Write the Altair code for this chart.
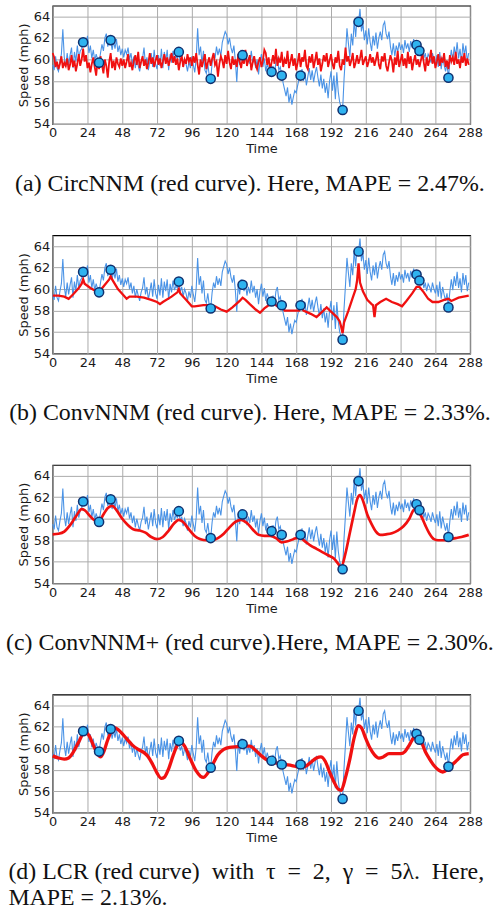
import altair as alt
import pandas as pd

time = list(range(288))

ground_truth = [
    59.5, 59.0, 60.3, 59.2, 58.9, 59.8, 60.5, 62.8, 60.2, 59.3, 60.6, 59.5,
    60.4, 61.1, 59.2, 60.7, 59.8, 61.3, 60.1, 60.8, 61.0, 61.6, 61.9, 61.2,
    62.2, 60.6, 61.3, 60.1, 60.9, 59.9, 60.5, 60.0, 59.7, 60.6, 61.4, 60.8,
    62.0, 62.4, 61.2, 62.1, 61.8, 60.9, 61.7, 61.0, 61.9, 60.7, 61.3, 60.4,
    61.0, 60.2, 60.9, 60.5, 61.1, 60.0, 60.6, 59.6, 60.3, 59.2, 60.0, 59.4,
    58.9, 59.7, 60.1, 61.1, 59.5, 60.2, 59.0, 59.8, 60.6, 59.3, 60.9, 59.6,
    59.1, 60.4, 59.4, 61.0, 59.2, 60.7, 59.8, 60.9, 59.0, 60.5, 59.7, 60.8,
    59.9, 60.3, 60.1, 60.7, 59.8, 60.2, 59.3, 60.0, 59.6, 58.9, 59.8, 59.2,
    60.3, 59.5, 58.8, 60.1, 62.9, 60.4, 61.2, 59.6, 60.8, 59.0, 58.7, 59.6,
    58.5, 58.2, 59.7, 60.6, 60.1, 61.2, 60.4, 61.0, 60.3, 61.6, 62.1, 62.6,
    62.3, 61.4, 62.0, 61.1, 60.6, 61.3, 59.9, 57.9, 60.5, 59.5, 60.9, 60.4,
    59.8, 60.5, 59.4, 60.2, 59.6, 60.8, 59.7, 60.3, 59.2, 60.0, 58.6, 59.8,
    60.5, 59.3, 60.1, 58.9, 59.6, 59.1, 58.8, 58.9, 59.4, 58.6, 59.8, 60.2,
    59.0, 59.3, 58.5, 57.8, 57.2, 56.6, 57.4, 56.0, 56.8, 55.8, 56.5, 57.1,
    56.9, 57.6, 58.2, 58.5, 59.1, 58.0, 58.8, 57.6, 58.4, 59.2, 58.1, 59.0,
    57.9, 58.7, 59.3, 58.3, 57.5, 58.6, 57.3, 58.2, 56.9, 57.8, 56.4, 58.0,
    58.9, 57.1, 58.5, 56.3, 58.8, 57.0, 56.0, 55.6, 55.3, 58.2, 60.4, 62.9,
    61.5, 60.2, 62.4, 61.3, 63.6, 62.1, 64.0, 63.5, 64.7, 62.6, 63.4, 61.8,
    62.7, 61.4, 62.9, 61.6, 60.8, 62.2, 61.3, 62.5, 61.0, 62.0, 62.6, 61.8,
    63.2, 63.5, 62.4, 61.9, 62.6, 61.2, 60.4, 61.5, 60.3, 61.3, 60.7, 61.6,
    60.9, 61.4, 60.6, 61.8, 61.0, 61.5, 60.7, 61.7, 61.1, 61.9, 61.4, 61.35,
    61.0, 60.8, 60.4, 61.0, 60.1, 60.6, 59.8, 60.5, 60.2, 59.7, 60.6, 60.0,
    59.6, 60.4, 59.3, 60.7, 59.1, 60.2, 59.5, 58.9, 59.6, 58.3, 59.8, 60.9,
    59.9, 61.2, 60.3, 61.6, 60.1, 61.0, 59.7, 61.5, 60.4, 61.3, 59.8, 60.6,
]

circ_nnm = [
    60.6, 60.2, 59.3, 59.8, 59.1, 59.6, 60.3, 59.2, 59.7, 59.4, 60.1, 59.0, 59.5, 60.4, 59.3, 59.9, 58.9, 59.6, 60.5, 59.4, 60.0, 61.0, 59.8, 60.4,
    59.2, 59.7, 58.8, 59.6, 60.2, 59.3, 58.5, 59.9, 59.1, 60.3, 59.5, 58.7, 60.0, 59.4, 58.3, 59.8, 60.6, 59.2, 59.9, 59.0, 60.2, 59.6, 59.3, 60.1,
    59.4, 60.0, 59.2, 59.8, 60.5, 59.3, 59.7, 59.0, 59.9, 60.4, 59.5, 60.7, 59.2, 59.8, 60.3, 59.4, 60.0, 59.1, 59.7, 60.6, 59.6, 60.2, 59.3, 59.9,
    60.4, 59.5, 60.1, 59.2, 59.8, 60.5, 59.6, 60.2, 59.4, 60.0, 60.6, 59.7, 60.3, 59.5, 60.1, 59.0, 59.8, 60.4, 59.3, 60.0, 59.6, 60.5, 59.8, 60.2,
    59.4, 60.3, 59.7, 60.6, 59.5, 58.6, 60.0, 59.3, 59.9, 60.5, 59.1, 59.7, 60.2, 59.4, 60.1, 60.6, 59.5, 59.8, 58.4, 59.6, 60.3, 59.9, 59.2, 60.4,
    59.6, 60.8, 59.7, 59.1, 60.3, 59.5, 60.0, 59.3, 60.5, 59.8, 59.2, 60.1, 59.6, 60.9, 59.4, 59.9, 60.4, 59.0, 59.7, 60.3, 59.5, 59.1, 59.8, 60.2,
    59.3, 59.9, 60.9, 60.6, 59.5, 60.2, 59.0, 59.7, 60.4, 59.6, 61.0, 59.4, 60.1, 59.7, 60.7, 59.3, 60.0, 59.6, 60.8, 59.2, 59.8, 60.5, 59.4, 60.1,
    59.0, 59.7, 60.6, 59.3, 60.2, 59.8, 60.9, 59.4, 59.1, 60.3, 59.7, 60.5, 59.2, 59.9, 60.7, 59.5, 60.1, 58.9, 59.6, 60.4, 59.8, 60.6, 59.3, 59.9,
    60.5, 59.6, 59.1, 60.2, 59.7, 60.8, 59.4, 59.0, 60.0, 59.5, 61.1, 59.8, 60.3, 59.4, 59.9, 60.6, 59.2, 59.7, 60.4, 59.6, 60.1, 60.9, 59.5, 59.9,
    60.3, 59.3, 59.8, 60.5, 59.7, 60.2, 59.4, 60.0, 60.7, 59.5, 59.1, 60.3, 59.8, 60.6, 59.4, 58.9, 59.7, 60.4, 59.9, 58.8, 60.2, 59.5, 60.8, 59.3,
    59.9, 60.5, 59.4, 60.1, 59.2, 60.7, 59.6, 60.3, 59.0, 59.8, 60.4, 59.5, 60.0, 59.3, 59.9, 60.6, 59.7, 58.9, 60.2, 59.4, 60.0, 60.9, 59.6, 60.3,
    59.2, 59.8, 60.5, 59.4, 60.1, 59.7, 60.6, 59.3, 59.9, 59.1, 60.4, 59.8, 60.2, 59.5, 60.7, 59.6, 60.0, 59.2, 60.3, 59.7, 60.6, 59.4, 60.1, 59.5,
]

conv_t = [0, 4, 8, 11, 14, 18, 20, 21, 22, 26, 30, 32, 33, 36, 39, 40, 41, 45, 49, 51, 53, 58, 63, 68, 72, 74, 76, 82, 86, 87, 88,
          92, 96, 98, 104, 109, 112, 116, 120, 124, 129, 131, 133, 136, 140, 143, 146, 150, 151, 153, 157, 158, 160, 165, 170, 171,
          173, 178, 182, 186, 189, 192, 196, 198, 199, 200, 201, 204, 207, 209, 210, 211, 212, 214, 217, 220, 221, 222, 223, 226,
          230, 234, 238, 241, 244, 248, 251, 253, 256, 259, 262, 266, 270, 273, 275, 280, 287]
conv_v = [59.4, 59.4, 59.3, 59.1, 59.5, 60.1, 60.5, 60.9, 60.5, 60.1, 59.8, 59.6, 59.9, 60.4, 60.9, 61.2, 60.9, 60.0, 59.4, 59.1,
          59.3, 59.3, 59.2, 59.0, 58.8, 58.6, 58.8, 59.3, 59.7, 60.0, 59.6, 59.0, 58.4, 58.4, 58.5, 58.5, 58.4, 58.1, 57.9, 58.3,
          58.9, 59.2, 59.0, 58.6, 58.1, 57.8, 58.2, 58.6, 58.9, 58.6, 58.2, 58.5, 58.0, 58.0, 58.0, 58.4, 58.0, 57.7, 57.4, 57.9,
          58.3, 57.9, 57.4, 57.0, 56.5, 55.9, 56.9, 58.0, 59.2, 60.0, 60.8, 62.4, 60.6, 59.8, 59.0, 58.6, 58.5, 57.4, 58.5, 58.8,
          59.1, 58.8, 58.6, 58.4, 58.9, 59.6, 60.2, 60.2, 59.7, 59.1, 58.8, 58.8, 59.0, 59.1, 58.9, 59.2, 59.4]

convp_t = [0, 4, 8, 12, 16, 20, 22, 26, 30, 32, 35, 38, 41, 44, 48, 52, 56, 60, 64, 68, 72, 76, 80, 84, 87, 90, 94, 98, 102, 106,
           110, 114, 118, 122, 126, 130, 134, 138, 142, 146, 150, 154, 158, 162, 166, 170, 174, 178, 182, 186, 190, 194, 197, 199,
           202, 205, 208, 210, 212, 214, 217, 220, 223, 226, 230, 234, 238, 242, 246, 249, 251, 254, 257, 260, 263, 266, 270, 274,
           278, 282, 287]
convp_v = [58.55, 58.6, 58.8, 59.4, 60.2, 60.9, 60.8, 60.2, 59.8, 59.8, 60.4, 61.0, 61.2, 60.8, 60.0, 59.4, 59.0, 58.9, 58.7, 58.3,
           58.1, 58.3, 58.9, 59.6, 59.9, 59.7, 59.0, 58.4, 58.1, 58.0, 58.0, 58.2, 58.6, 59.2, 59.7, 59.9, 59.6, 59.0, 58.5, 58.4,
           58.4, 58.2, 57.8, 57.9, 58.1, 58.25, 57.9, 57.5, 57.2, 56.9, 56.6, 56.3, 55.8, 55.5, 56.8, 58.7, 60.6, 61.8, 62.2, 61.7,
           60.4, 59.5, 58.8, 58.5, 58.55, 58.65, 58.9, 59.3, 60.0, 60.8, 60.9, 60.3, 59.4, 58.6, 58.1, 58.0, 58.0, 58.1, 58.2, 58.3,
           58.5]

lcr_t = [0, 4, 8, 11, 14, 18, 22, 25, 28, 31, 33, 35, 38, 41, 43, 47, 51, 55, 59, 63, 66, 69, 72, 75, 77, 80, 83, 86, 88, 91, 95,
         99, 102, 104, 107, 110, 114, 118, 122, 128, 132, 136, 140, 144, 148, 152, 156, 160, 165, 170, 174, 178, 182, 185, 188,
         191, 194, 197, 199, 202, 205, 208, 211, 213, 216, 219, 222, 225, 228, 232, 236, 240, 243, 246, 249, 251, 254, 257, 260,
         263, 266, 269, 272, 275, 279, 283, 287]
lcr_v = [59.3, 59.1, 59.0, 59.1, 59.6, 60.6, 61.5, 61.2, 60.3, 59.5, 59.2, 59.6, 60.8, 61.7, 61.9, 61.5, 60.9, 60.3, 59.9, 59.6,
         59.2, 58.5, 57.7, 57.2, 57.3, 58.1, 59.3, 60.3, 60.6, 60.2, 59.0, 57.9, 57.4, 57.3, 57.7, 58.4, 59.4, 59.9, 60.1, 60.15,
         60.2, 60.2, 59.8, 59.3, 58.9, 58.7, 58.6, 58.5, 58.4, 58.25, 58.3, 58.7, 59.1, 59.2, 58.8, 57.8, 56.9, 56.2, 56.1, 57.3,
         59.0, 61.0, 62.1, 61.9, 60.9, 60.0, 59.4, 59.1, 59.2, 59.5, 59.5, 59.5, 59.7, 60.3, 61.0, 61.2, 60.7, 59.7, 59.0, 58.4,
         58.0, 57.8, 58.0, 58.4, 58.9, 59.4, 59.5]

obs_t = [21, 32, 40, 87, 109, 131, 151, 158, 171, 200, 211, 251, 253, 273]
obs_v = [61.6, 59.7, 61.8, 60.7, 58.2, 60.4, 58.85, 58.5, 58.5, 55.3, 63.5, 61.35, 60.8, 58.3]

x_ticks = list(range(0, 289, 24))
y_ticks = [54, 56, 58, 60, 62, 64]

E = "\u2002"
captions = [
    "(a) CircNNM (red curve). Here, MAPE = 2.47%.",
    "(b) ConvNNM (red curve). Here, MAPE = 2.33%.",
    "(c) ConvNNM+ (red curve).Here, MAPE = 2.30%.",
    ["(d) LCR (red curve)" + E + "with" + E + "\u03c4" + E + "=" + E + "2," + E + "\u03b3" + E + "=" + E
     + "5\u03bb." + E + "Here,", "MAPE = 2.13%."],
]

blue_df = pd.DataFrame({"t": time, "v": ground_truth})
obs_df = pd.DataFrame({"t": obs_t, "v": obs_v})
red_dfs = [
    pd.DataFrame({"t": time, "v": circ_nnm}),
    pd.DataFrame({"t": conv_t, "v": conv_v}),
    pd.DataFrame({"t": convp_t, "v": convp_v}),
    pd.DataFrame({"t": lcr_t, "v": lcr_v}),
]
red_widths = [1.8, 2.3, 2.7, 3.3]
red_interp = ["linear", "linear", "monotone", "monotone"]

X = alt.X("t:Q", scale=alt.Scale(domain=[0, 288], nice=False, zero=False),
          axis=alt.Axis(values=x_ticks, title="Time"))
Y = alt.Y("v:Q", scale=alt.Scale(domain=[54, 65], nice=False, zero=False),
          axis=alt.Axis(values=y_ticks, title="Speed (mph)"))

panels = []
for i in range(4):
    blue = alt.Chart(blue_df).mark_line(color="#4a93e6", strokeWidth=1.1).encode(x=X, y=Y)
    red = alt.Chart(red_dfs[i]).mark_line(color="#f01010", strokeWidth=red_widths[i],
                                          interpolate=red_interp[i]).encode(x=X, y=Y)
    pts = alt.Chart(obs_df).mark_circle(size=85, color="#2fb3f0", opacity=1,
                                        stroke="#0f2f6e", strokeWidth=1.5).encode(x=X, y=Y)
    if i < 3:
        tp = alt.TitleParams(captions[i], orient="bottom", anchor="middle", frame="bounds",
                             font="Liberation Serif", fontSize=24, fontWeight="normal",
                             color="#111", offset=16)
    else:
        tp = alt.TitleParams(captions[i], orient="bottom", anchor="start", frame="bounds",
                             font="Liberation Serif", fontSize=24, fontWeight="normal",
                             color="#111", offset=16, lineHeight=26, dx=-9)
    panels.append(alt.layer(blue, red, pts).properties(width=420, height=119, title=tp))

chart = alt.vconcat(*panels, spacing=38).properties(
    padding={"left": 5, "top": 2, "right": 5, "bottom": 0}
).configure_axis(
    grid=True, gridColor="#aaaaaa", gridWidth=1, domain=False, ticks=False,
    labelFont="DejaVu Sans", labelFontSize=13, labelColor="#1a1a1a", labelPadding=3,
    labelFlush=False,
    titleFont="DejaVu Sans", titleFontSize=13, titleFontWeight="normal", titleColor="#1a1a1a",
    titlePadding=3,
).configure_view(stroke="black", strokeWidth=1.2)

chart.save("out.html", embed_options={"renderer": "svg", "actions": False})
